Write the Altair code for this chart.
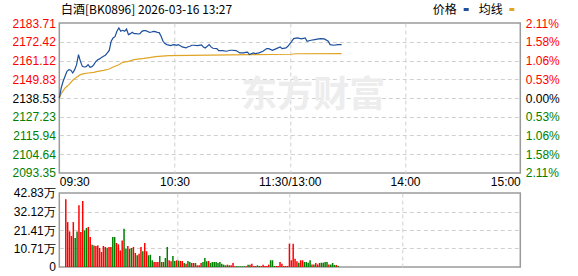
import altair as alt
import pandas as pd

TITLE = "白酒[BK0896] 2026-03-16 13:27"
LEGEND_LABELS = ["价格", "均线"]
WATERMARK = "东方财富"
PREV_CLOSE = 2138.53
Y_TICKS = [2093.35, 2104.64, 2115.94, 2127.23, 2138.53, 2149.83, 2161.12, 2172.42, 2183.71]
X_TICKS = [0, 60, 120, 180, 240]
X_LABELS = ["09:30", "10:30", "11:30/13:00", "14:00", "15:00"]
VOL_TICKS = [0, 10.71, 21.41, 32.12, 42.83]

price_min = [0, 1, 2, 3, 4, 5, 6, 7, 8, 9, 10, 11, 12, 13, 14, 15, 16, 17, 18, 19,
             20, 21, 22, 23, 24, 25, 26, 27, 28, 29, 30, 31, 32, 33, 34, 35, 36, 37, 38, 39,
             40, 41, 42, 43, 44, 45, 46, 47, 48, 49, 50, 51, 52, 53, 54, 55, 56, 57, 58, 59,
             60, 61, 62, 63, 64, 65, 66, 67, 68, 69, 70, 72, 74, 75, 76, 78, 79, 80, 82, 83,
             85, 87, 89, 90, 92, 94, 96, 97, 98, 99, 101, 102, 104, 106, 108, 109, 111, 113, 115, 116,
             118, 119, 121, 122, 124, 126, 128, 129, 131, 133, 135, 136, 138, 140, 141, 143, 145, 147]
price_val = [2138.5, 2144.6, 2148.6, 2151.6, 2154.6, 2155.6, 2155.3, 2153.6, 2155.6, 2158.6,
             2164.7, 2160.6, 2157.6, 2157.2, 2157.4, 2158.6, 2157.0, 2157.4, 2158.6, 2160.5,
             2161.6, 2162.1, 2163.0, 2163.7, 2164.3, 2165.7, 2167.2, 2172.7, 2174.7, 2175.5,
             2178.7, 2180.7, 2178.7, 2179.3, 2178.7, 2180.1, 2176.7, 2177.3, 2178.1, 2177.3,
             2177.3, 2177.1, 2177.3, 2178.7, 2179.1, 2179.1, 2178.6, 2178.1, 2178.3, 2178.7,
             2178.5, 2178.1, 2177.9, 2175.7, 2172.7, 2171.3, 2170.7, 2170.4, 2170.1, 2170.5,
             2170.7, 2170.3, 2170.7, 2170.0, 2169.3, 2169.0, 2168.7, 2169.4, 2169.7, 2170.3,
             2170.3, 2170.1, 2170.5, 2169.3, 2168.7, 2170.7, 2169.3, 2168.5, 2168.3, 2167.1,
             2167.1, 2166.7, 2167.3, 2167.3, 2167.1, 2165.7, 2165.7, 2166.0, 2166.1, 2164.7,
             2165.7, 2165.3, 2165.7, 2166.7, 2168.3, 2168.3, 2167.3, 2168.3, 2169.3, 2168.3,
             2168.7, 2169.7, 2172.7, 2174.3, 2174.7, 2174.1, 2174.7, 2172.7, 2173.3, 2173.7,
             2174.1, 2174.3, 2174.1, 2172.7, 2170.7, 2170.3, 2170.7, 2170.7]

avg_min = [0, 1, 3, 5, 7, 9, 11, 13, 15, 18, 20, 23, 26, 28, 31, 33, 36, 39, 41, 44,
           47, 50, 57, 79, 99, 121, 123, 147]
avg_val = [2138.5, 2141.2, 2144.6, 2146.6, 2149.2, 2151.0, 2152.6, 2153.2, 2153.6, 2154.0,
           2154.6, 2155.2, 2156.0, 2157.2, 2158.6, 2160.0, 2160.6, 2161.6, 2162.0, 2162.4,
           2162.9, 2163.4, 2164.0, 2164.4, 2164.6, 2164.9, 2165.2, 2165.3]

vol_val = [39.2, 26.0, 20.6, 17.9, 26.0, 16.8, 20.6, 35.7, 20.3, 38.2,
           21.2, 22.6, 23.2, 17.4, 12.9, 12.5, 12.2, 12.5, 11.0, 8.7,
           12.2, 11.6, 11.2, 11.6, 11.6, 17.4, 17.4, 13.9, 13.1, 9.6,
           15.4, 22.2, 10.6, 12.2, 10.6, 11.0, 11.6, 8.1, 6.8, 7.7,
           11.6, 9.1, 13.9, 9.1, 6.8, 7.1, 3.9, 2.9, 2.9,
           2.9, 6.4, 2.9, 2.9, 5.2, 11.6, 3.9, 3.3, 6.4, 3.5,
           3.9, 3.7, 3.5, 3.5, 2.3, 1.9, 3.5, 2.9, 2.3, 2.3,
           2.3, 1.0, 1.0, 2.3, 2.9, 5.2, 3.3, 3.5, 2.3, 2.9,
           2.9, 2.9, 2.3, 2.9, 1.9, 1.35, 1.0, 1.35, 1.0, 1.0,
           2.3, 0.4, 0.4, 0.4, 0.4, 0.4, 0.4, 0.4, 1.35,
           1.35, 1.9, 0.6, 0.6, 1.0, 0.6, 0.6, 1.35, 0.6, 0.6,
           1.35, 3.9, 3.9, 0.6, 0.6, 0.6, 2.9, 1.9, 0.6, 0.6,
           0.6, 13.5, 3.9, 13.5, 4.8, 3.3, 2.5, 3.9, 3.9, 2.9,
           2.9, 2.5, 3.9,
           1.5, 1.5, 2.3, 1.5, 2.3, 2.5, 2.5, 2.9, 2.9, 1.5,
           1.5, 2.3, 1.2, 1.2, 0.6]
vol_dir = ["up", "up", "up", "up", "up", "down", "down", "up", "up", "up",
           "down", "down", "up", "up", "down", "up", "up", "up", "up", "up",
           "up", "up", "down", "up", "up", "down", "down", "up", "up", "up",
           "up", "down", "down", "up", "down", "down", "up", "up", "down", "up",
           "up", "down", "up", "up", "down", "down", "down", "up", "up",
           "up", "down", "up", "down", "down", "down", "up", "up", "down", "down",
           "up", "down", "up", "up", "down", "up", "down", "down", "up", "up",
           "down", "up", "up", "up", "down", "down", "down", "up", "down", "down",
           "down", "down", "down", "down", "down", "down", "down", "up", "down", "up",
           "up", "up", "down", "down", "down", "down", "down", "up", "down",
           "up", "up", "up", "up", "down", "down", "up", "up", "up", "up",
           "up", "down", "down", "down", "up", "up", "up", "up", "up", "up",
           "up", "up", "up", "up", "up", "up", "down", "up", "up", "down",
           "down", "down", "down",
           "up", "down", "up", "up", "up", "down", "down", "down", "down", "up",
           "down", "down", "down", "up", "down"]

BLUE = "#1c4f9c"
ORANGE = "#e0a526"
RED = "#ff0000"
GREEN = "#008000"
GRID = "#d0d0d0"
FONT = "Liberation Sans"
CJK = "Noto Sans CJK SC"

W, H1, H2 = 461, 150, 74

price_df = pd.DataFrame({"m": price_min, "p": price_val})
avg_df = pd.DataFrame({"m": avg_min, "p": avg_val})
vol_df = pd.DataFrame({"m": list(range(len(vol_val))), "v": vol_val, "d": vol_dir})

x_expr = " : ".join(f"datum.value == {v} ? '{l}'" for v, l in zip(X_TICKS, X_LABELS)) + " : ''"
xscale = alt.Scale(domain=[X_TICKS[0], X_TICKS[-1]], nice=False, zero=False)
yscale = alt.Scale(domain=[Y_TICKS[0], Y_TICKS[-1]], nice=False, zero=False)

sign_color = {
    "condition": [
        {"test": f"datum.value > {PREV_CLOSE + 0.005}", "value": RED},
        {"test": f"datum.value < {PREV_CLOSE - 0.005}", "value": GREEN},
    ],
    "value": "#000000",
}
y_edge = {"condition": {"test": f"datum.value <= {Y_TICKS[0] + 0.01} || datum.value >= {Y_TICKS[-1] - 0.01}", "value": 0}, "value": 1}
x_edge = {"condition": {"test": f"datum.value <= {X_TICKS[0]} || datum.value >= {X_TICKS[-1]}", "value": 0}, "value": 1}

x_axis_top = alt.Axis(values=X_TICKS, labelExpr=x_expr, labelFlush=True, ticks=False, domain=False,
                      grid=True, gridColor=GRID, gridDash=[4, 3], gridOpacity=x_edge,
                      labelPadding=4, title=None, labelColor="#000000")
y_axis_left = alt.Axis(values=Y_TICKS, format=".2f", ticks=False, domain=False, grid=True,
                       gridColor=GRID, gridDash=[4, 3], gridOpacity=y_edge, labelColor=sign_color,
                       labelPadding=4, minExtent=50, title=None)
y_axis_right = alt.Axis(orient="right", values=Y_TICKS,
                        labelExpr=f"format(abs(datum.value - {PREV_CLOSE}) / {PREV_CLOSE} * 100, '.2f') + '%'",
                        ticks=False, domain=False, grid=False, labelColor=sign_color,
                        labelPadding=5, title=None)

one = pd.DataFrame({"t": [TITLE]})
wm = alt.Chart(pd.DataFrame({"t": [WATERMARK]})).mark_text(
    font=CJK, fontSize=36, fontWeight="bold", color="#ededed", align="center", baseline="middle"
).encode(x=alt.value(254), y=alt.value(73), text="t:N")

avg_line = alt.Chart(avg_df).mark_line(color=ORANGE, strokeWidth=1.2).encode(
    x=alt.X("m:Q", scale=xscale, axis=x_axis_top),
    y=alt.Y("p:Q", scale=yscale, axis=y_axis_right),
)
price_line = alt.Chart(price_df).mark_line(color=BLUE, strokeWidth=1.2).encode(
    x=alt.X("m:Q", scale=xscale, axis=x_axis_top),
    y=alt.Y("p:Q", scale=yscale, axis=y_axis_left),
)
title_txt = alt.Chart(one).mark_text(font=CJK, fontSize=12, align="left", baseline="middle", color="#000").encode(
    x=alt.value(1.7), y=alt.value(-12.7), text="t:N")
leg1 = alt.Chart(pd.DataFrame({"t": [LEGEND_LABELS[0]]})).mark_text(
    font=CJK, fontSize=12, align="left", baseline="middle", color="#000").encode(
    x=alt.value(373.4), y=alt.value(-12.7), text="t:N")
leg2 = alt.Chart(pd.DataFrame({"t": [LEGEND_LABELS[1]]})).mark_text(
    font=CJK, fontSize=12, align="left", baseline="middle", color="#000").encode(
    x=alt.value(419.4), y=alt.value(-12.7), text="t:N")
sw1 = alt.Chart(one).mark_rule(color=BLUE, strokeWidth=3).encode(
    x=alt.value(404.4), x2=alt.value(409.4), y=alt.value(-13.5))
sw2 = alt.Chart(one).mark_rule(color=ORANGE, strokeWidth=3).encode(
    x=alt.value(450), x2=alt.value(455), y=alt.value(-13.5))

top = alt.layer(wm, avg_line, price_line, title_txt, leg1, leg2, sw1, sw2).resolve_scale(
    y="independent").properties(width=W, height=H1)

x_axis_bottom = alt.Axis(values=X_TICKS[1:-1], labels=False, ticks=False, domain=False, grid=True,
                         gridColor=GRID, gridDash=[4, 3], title=None)
vol_axis = alt.Axis(values=VOL_TICKS,
                    labelExpr="datum.value == 0 ? '0' : format(datum.value, '.2f') + '万'",
                    ticks=False, domain=False, grid=True, gridColor=GRID, gridDash=[4, 3],
                    gridOpacity={"condition": {"test": f"datum.value <= 0 || datum.value >= {VOL_TICKS[-1] - 0.01}", "value": 0}, "value": 1},
                    labelColor="#000000", labelPadding=4, minExtent=50, title=None)

bottom = alt.Chart(vol_df).mark_bar(width=1.5, xOffset=1.5).encode(
    x=alt.X("m:Q", scale=xscale, axis=x_axis_bottom),
    y=alt.Y("v:Q", scale=alt.Scale(domain=[0, VOL_TICKS[-1]], nice=False), axis=vol_axis),
    color=alt.Color("d:N", scale=alt.Scale(domain=["up", "down"], range=[RED, GREEN]), legend=None),
).properties(width=W, height=H2)

chart = alt.vconcat(top, bottom, spacing=-3).properties(
    padding={"left": 8.3, "top": 3, "right": 5, "bottom": 0},
    background="#ffffff",
).configure_view(stroke="#9a9a9a", strokeWidth=1.5).configure_axis(
    labelFont=FONT, labelFontSize=12
)

chart.save("out.html", embed_options={"renderer": "svg", "actions": False})
